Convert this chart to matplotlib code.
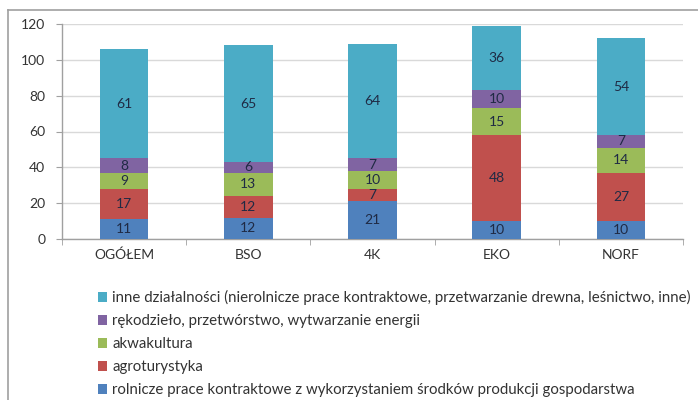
import matplotlib
matplotlib.use("Agg")
import matplotlib.pyplot as plt
from matplotlib.lines import Line2D
from matplotlib.patches import Patch
import numpy as np

plt.rcParams['font.family'] = ['Lato', 'DejaVu Sans']

categories = ["OGÓŁEM", "BSO", "4K", "EKO", "NORF"]
series_names = [
    "rolnicze prace kontraktowe z wykorzystaniem środków produkcji gospodarstwa",
    "agroturystyka",
    "akwakultura",
    "rękodzieło, przetwórstwo, wytwarzanie energii",
    "inne działalności (nierolnicze prace kontraktowe, przetwarzanie drewna, leśnictwo, inne)",
]
rolnicze = [11, 12, 21, 10, 10]
agroturystyka = [17, 12, 7, 48, 27]
akwakultura = [9, 13, 10, 15, 14]
rekodzielo = [8, 6, 7, 10, 7]
inne = [61, 65, 64, 36, 54]
series = [rolnicze, agroturystyka, akwakultura, rekodzielo, inne]
colors = ["#4F81BD", "#C0504D", "#9BBB59", "#8064A2", "#4BACC6"]
yticks = [0, 20, 40, 60, 80, 100, 120]

fig = plt.figure(figsize=(6.98, 4.0), dpi=100)
ax = fig.add_axes([62/698, 161/400, 621/698, 215/400])

x = np.arange(len(categories))
bottom = np.zeros(len(categories))
for vals, col in zip(series, colors):
    vals = np.array(vals, dtype=float)
    ax.bar(x, vals, 0.39, bottom=bottom, color=col, zorder=3)
    for xi, b, v in zip(x, bottom, vals):
        ax.text(xi, b + v / 2, f"{int(v)}", ha='center', va='center',
                fontsize=10, color="#1F2A44", zorder=4)
    bottom += vals

ax.set_xlim(-0.5, len(categories) - 0.5)
ax.set_ylim(0, 120)
ax.set_yticks(yticks)
ax.set_yticklabels([str(t) for t in yticks], fontsize=10, color="#333333")
ax.set_xticks(x)
ax.set_xticklabels(categories, fontsize=10, color="#333333")
ax.set_xticks(np.arange(-0.5, len(categories), 1.0), minor=True)
ax.tick_params(axis='x', which='major', length=0, pad=7)
ax.tick_params(axis='x', which='minor', length=4, color="#A0A0A0", direction='out')
ax.tick_params(axis='y', length=4, color="#A0A0A0", direction='out', pad=8)
ax.grid(axis='y', color="#D9D9D9", linewidth=1, zorder=0)
for s in ['top', 'right']:
    ax.spines[s].set_visible(False)
for s in ['left', 'bottom']:
    ax.spines[s].set_color("#A0A0A0")
    ax.spines[s].set_linewidth(1)

handles = [Patch(facecolor=c) for c in colors][::-1]
labels = series_names[::-1]
leg = fig.legend(handles, labels, loc='upper left',
                 bbox_to_anchor=(92/698, 1 - 284/400), frameon=False,
                 fontsize=10.8, handlelength=0.6, handleheight=0.6,
                 handletextpad=0.35, labelspacing=0.6, borderaxespad=0)
for t in leg.get_texts():
    t.set_color("#333333")

# chart frame
fig.add_artist(Line2D([8/698, 8/698], [0, 1 - 10/400], color="#A0A0A0", lw=1.2,
                      transform=fig.transFigure))
fig.add_artist(Line2D([8/698, 1], [1 - 10/400, 1 - 10/400], color="#A0A0A0", lw=1.2,
                      transform=fig.transFigure))

fig.savefig("out.png", dpi=100)
